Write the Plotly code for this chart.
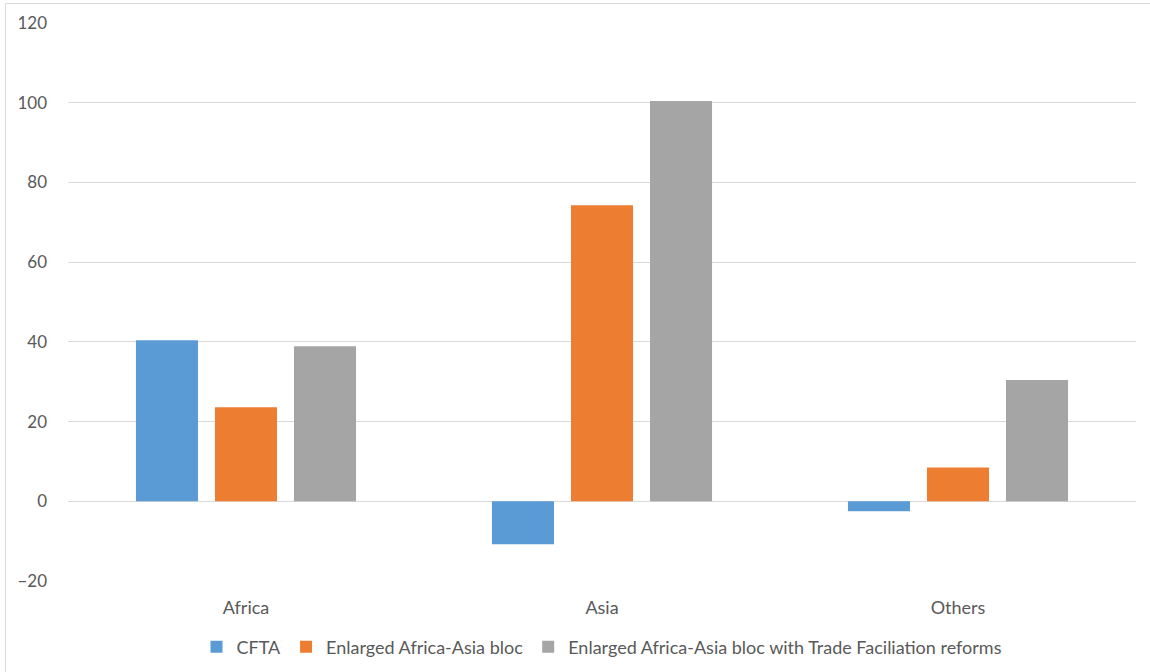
import plotly.graph_objects as go

categories = ["Africa", "Asia", "Others"]
cfta = [40.4, -10.8, -2.5]
enlarged = [23.6, 74.3, 8.5]
enlarged_tf = [38.9, 100.4, 30.4]

series_names = ["CFTA", "Enlarged Africa-Asia bloc",
                "Enlarged Africa-Asia bloc with Trade Faciliation reforms"]
colors = ["#5B9BD5", "#ED7D31", "#A5A5A5"]

W, H = 1150, 672
ml, mr, mt, mb = 68, 14, 23, 91

fig = go.Figure()
for name, vals, c in zip(series_names, [cfta, enlarged, enlarged_tf], colors):
    fig.add_trace(go.Bar(x=categories, y=vals, name=name, marker_color=c,
                         marker_line_width=0))

pw = W - ml - mr
ph = H - mt - mb
fig.add_shape(type="rect", xref="paper", yref="paper",
              x0=(5.5 - ml) / pw, x1=(W + 5 - ml) / pw,
              y0=-(H + 5 - mt - ph) / ph, y1=1 + (mt - 3.5) / ph,
              line=dict(color="#d9d9d9", width=1), layer="below")

fig.update_layout(
    width=W, height=H,
    margin=dict(l=ml, r=mr, t=mt, b=mb, autoexpand=False),
    paper_bgcolor="white", plot_bgcolor="white",
    bargap=0.334, bargroupgap=0.215,
    font=dict(family="Lato, Open Sans, sans-serif", size=17, color="#595959"),
    legend=dict(orientation="h", x=0.5, xanchor="center",
                y=-(647 - (H - mb)) / ph, yanchor="middle",
                font=dict(size=18, color="#595959"), itemwidth=30,
                traceorder="normal"),
    yaxis=dict(range=[-20, 120], dtick=20, showgrid=True, gridcolor="#d9d9d9",
               gridwidth=1, zeroline=True, zerolinecolor="#d9d9d9", zerolinewidth=1,
               showline=False, ticks="", tickfont=dict(size=17, color="#595959"),
               ticklabelstandoff=20),
    xaxis=dict(showgrid=False, showline=False, ticks="",
               tickfont=dict(size=18, color="#595959"), ticklabelstandoff=14),
)

fig.write_html("out.html")
